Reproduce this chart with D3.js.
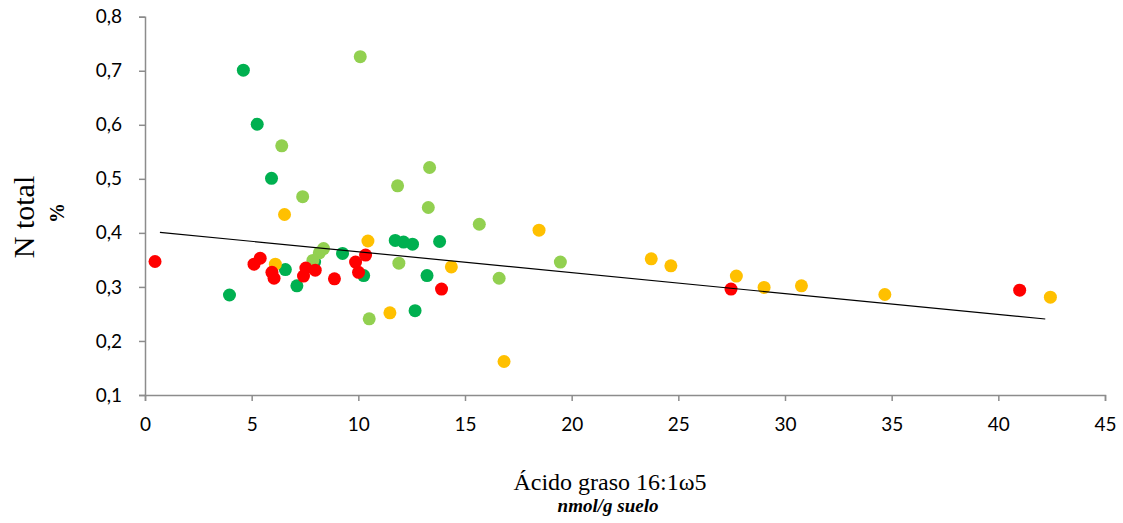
<!DOCTYPE html>
<html>
<head>
<meta charset="utf-8">
<script src="https://cdn.jsdelivr.net/npm/d3@7"></script>
<style>
  html, body { margin: 0; padding: 0; background: #fff; }
  svg { display: block; }
</style>
</head>
<body>
<svg id="chart" width="1123" height="523"></svg>
<script>
// ---- Data ----
const xTicks = [0, 5, 10, 15, 20, 25, 30, 35, 40, 45];
const yTicks = [0.1, 0.2, 0.3, 0.4, 0.5, 0.6, 0.7, 0.8];

// dark green series
const darkGreenX = [4.61, 5.26, 5.93, 3.96, 6.58, 7.12, 9.26, 7.95, 10.25, 11.73, 12.12, 12.54, 13.81, 13.22, 12.66];
const darkGreenY = [0.701, 0.601, 0.501, 0.285, 0.332, 0.302, 0.362, 0.346, 0.321, 0.386, 0.383, 0.379, 0.384, 0.321, 0.256];

// light green series
const lightGreenX = [10.09, 6.41, 7.39, 8.37, 8.17, 7.87, 10.51, 13.34, 11.84, 13.28, 15.67, 11.90, 16.60, 19.47];
const lightGreenY = [0.726, 0.561, 0.467, 0.371, 0.363, 0.349, 0.241, 0.521, 0.487, 0.447, 0.416, 0.344, 0.316, 0.346];

// yellow series
const yellowX = [6.54, 6.11, 10.45, 14.36, 11.48, 16.83, 18.47, 23.73, 24.65, 27.72, 29.02, 30.77, 34.68, 42.44];
const yellowY = [0.434, 0.342, 0.385, 0.337, 0.252, 0.162, 0.405, 0.352, 0.339, 0.320, 0.299, 0.302, 0.286, 0.281];

// red series
const redX = [0.47, 5.40, 5.11, 5.95, 6.05, 7.54, 7.43, 7.98, 8.88, 9.87, 10.34, 10.01, 13.90, 27.47, 41.00];
const redY = [0.347, 0.353, 0.342, 0.327, 0.316, 0.335, 0.320, 0.331, 0.315, 0.346, 0.359, 0.327, 0.296, 0.296, 0.294];

// linear trend line (all points)
const trendX = [0.7, 42.2];
const trendSlope = -0.003865;
const trendIntercept = 0.4037;

// ---- Layout ----
const svg = d3.select("#chart");
const x = d3.scaleLinear().domain([0, 45]).range([145, 1105]);
const y = d3.scaleLinear().domain([0.1, 0.8]).range([395, 16.7]);
const axisColor = "#8c8c8c";
const tickFont = "Lato, 'Open Sans', sans-serif";

// X axis
const xAxis = svg.append("g")
  .attr("transform", `translate(0,${y(0.1)})`)
  .call(d3.axisBottom(x).tickValues(xTicks).tickSize(6).tickPadding(17).tickFormat(d3.format("d")));
xAxis.select(".domain").attr("stroke", axisColor).attr("stroke-width", 1.5);
xAxis.selectAll(".tick line").attr("stroke", axisColor).attr("stroke-width", 1.5);
xAxis.selectAll(".tick text").attr("font-family", tickFont).attr("font-size", 19).attr("fill", "#000");

// Y axis
const fmtY = v => d3.format(".1f")(v).replace(".", ",");
const yAxis = svg.append("g")
  .attr("transform", `translate(${x(0)},0)`)
  .call(d3.axisLeft(y).tickValues(yTicks).tickSize(6).tickPadding(17).tickFormat(fmtY));
yAxis.select(".domain").attr("stroke", axisColor).attr("stroke-width", 1.5);
yAxis.selectAll(".tick line").attr("stroke", axisColor).attr("stroke-width", 1.5);
yAxis.selectAll(".tick text").attr("font-family", tickFont).attr("font-size", 19).attr("fill", "#000");

// Series
const series = [
  { xs: darkGreenX, ys: darkGreenY, color: "#00B050" },
  { xs: lightGreenX, ys: lightGreenY, color: "#92D050" },
  { xs: yellowX, ys: yellowY, color: "#FFC000" },
  { xs: redX, ys: redY, color: "#FF0000" }
];
series.forEach(s => {
  const pts = s.xs.map((v, i) => [v, s.ys[i]]);
  svg.append("g").selectAll("circle").data(pts).join("circle")
    .attr("cx", d => x(d[0]))
    .attr("cy", d => y(d[1]))
    .attr("r", 6.5)
    .attr("fill", s.color);
});

// Trend line
const trendPts = trendX.map(v => [v, trendIntercept + trendSlope * v]);
svg.append("path")
  .datum(trendPts)
  .attr("d", d3.line().x(d => x(d[0])).y(d => y(d[1])))
  .attr("stroke", "#000")
  .attr("stroke-width", 1.2)
  .attr("fill", "none");

// Y title
svg.append("text")
  .attr("transform", `translate(34,217) rotate(-90)`)
  .attr("text-anchor", "middle")
  .attr("font-family", "'Liberation Serif', 'Times New Roman', serif")
  .attr("font-size", 30)
  .text("N total");
svg.append("text")
  .attr("transform", `translate(64,213) rotate(-90)`)
  .attr("text-anchor", "middle")
  .attr("font-family", "'Liberation Serif', 'Times New Roman', serif")
  .attr("font-size", 20)
  .attr("font-weight", "bold")
  .text("%");

// X title
svg.append("text")
  .attr("x", 610).attr("y", 490)
  .attr("text-anchor", "middle")
  .attr("font-family", "'Liberation Serif', 'Times New Roman', serif")
  .attr("font-size", 24)
  .text("Ácido graso 16:1ω5");
svg.append("text")
  .attr("x", 608).attr("y", 512)
  .attr("text-anchor", "middle")
  .attr("font-family", "'Liberation Serif', 'Times New Roman', serif")
  .attr("font-size", 19)
  .attr("font-weight", "bold")
  .attr("font-style", "italic")
  .text("nmol/g suelo");
</script>
</body>
</html>
